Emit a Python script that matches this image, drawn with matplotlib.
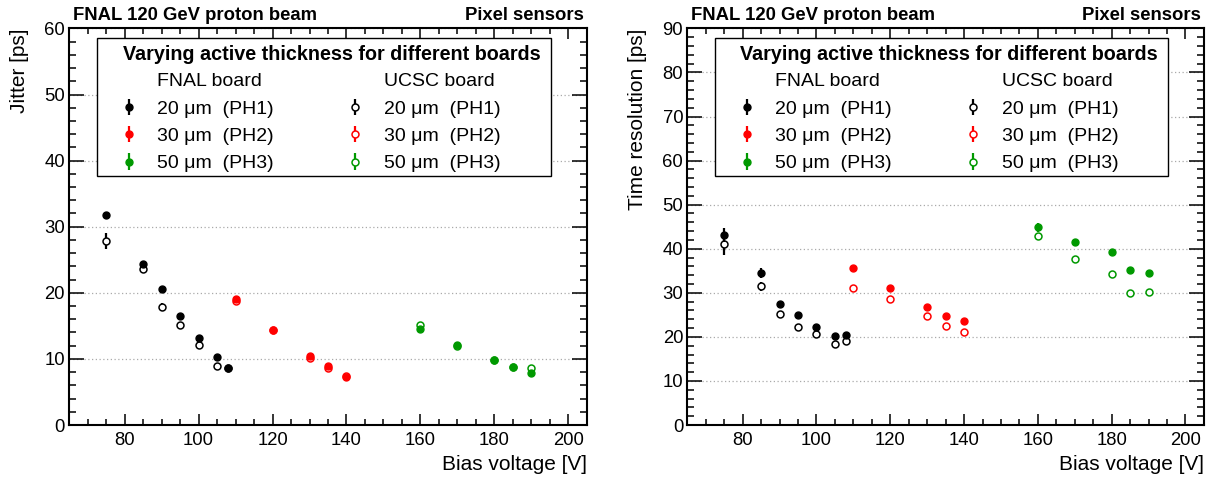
import numpy as np
import matplotlib
matplotlib.use("Agg")
import matplotlib.pyplot as plt
from matplotlib.patches import Rectangle
from matplotlib.lines import Line2D
from matplotlib.ticker import MultipleLocator
from matplotlib.container import ErrorbarContainer
from matplotlib.legend_handler import HandlerErrorbar

plt.rcParams['font.family'] = ['Liberation Sans', 'DejaVu Sans']

# bias voltages per sensor thickness
volt_20 = [75, 85, 90, 95, 100, 105, 108]
volt_30 = [110, 120, 130, 135, 140]
volt_50 = [160, 170, 180, 185, 190]

# jitter [ps]
jit_fnal_20 = [31.7, 24.4, 20.6, 16.5, 13.1, 10.3, 8.6]
jit_fnal_20_err = [0.6, 0.45, 0.3, 0.3, 0.3, 0.3, 0.3]
jit_ucsc_20 = [27.9, 23.6, 17.8, 15.1, 12.1, 9.0, 8.7]
jit_ucsc_20_err = [1.2, 0.5, 0.6, 0.3, 0.3, 0.3, 0.3]
jit_fnal_30 = [19.1, 14.4, 10.4, 8.9, 7.3]
jit_fnal_30_err = [0.3, 0.3, 0.3, 0.3, 0.3]
jit_ucsc_30 = [18.7, 14.3, 10.2, 8.6, 7.4]
jit_ucsc_30_err = [0.3, 0.3, 0.3, 0.3, 0.3]
jit_fnal_50 = [14.5, 12.1, 9.8, 8.8, 7.9]
jit_fnal_50_err = [0.3, 0.3, 0.3, 0.3, 0.3]
jit_ucsc_50 = [15.1, 12.0, 9.8, 8.8, 8.6]
jit_ucsc_50_err = [0.3, 0.3, 0.3, 0.3, 0.3]

# time resolution [ps]
tr_fnal_20 = [43.2, 34.5, 27.5, 25.0, 22.2, 20.2, 20.4]
tr_fnal_20_err = [1.6, 1.1, 0.5, 0.4, 0.4, 0.4, 0.4]
tr_ucsc_20 = [41.0, 31.5, 25.3, 22.2, 20.6, 18.4, 19.1]
tr_ucsc_20_err = [2.4, 1.0, 0.5, 0.4, 0.4, 0.4, 0.4]
tr_fnal_30 = [35.7, 31.0, 26.7, 24.8, 23.6]
tr_fnal_30_err = [0.4, 0.4, 0.4, 0.4, 0.4]
tr_ucsc_30 = [31.2, 28.7, 24.7, 22.4, 21.0]
tr_ucsc_30_err = [0.4, 0.4, 0.4, 0.4, 0.4]
tr_fnal_50 = [44.9, 41.5, 39.3, 35.2, 34.6]
tr_fnal_50_err = [1.0, 0.8, 0.6, 0.6, 0.5]
tr_ucsc_50 = [42.9, 37.7, 34.2, 29.9, 30.2]
tr_ucsc_50_err = [0.5, 0.5, 0.5, 0.5, 0.5]

thick_labels = ['20 \u03bcm  (PH1)', '30 \u03bcm  (PH2)', '50 \u03bcm  (PH3)']
colors = ['black', '#ff0000', '#009900']


def style_axes(ax, ymax, ylabel):
    ax.set_xlim(65, 205)
    ax.set_ylim(0, ymax)
    ax.xaxis.set_major_locator(MultipleLocator(20))
    ax.xaxis.set_minor_locator(MultipleLocator(5))
    ax.yaxis.set_major_locator(MultipleLocator(10))
    ax.yaxis.set_minor_locator(MultipleLocator(2))
    ax.tick_params(which='both', direction='in', top=True, right=True, width=1.1, labelsize=13.3)
    ax.tick_params(axis='x', which='major', length=8, pad=5)
    ax.tick_params(axis='x', which='minor', length=4)
    ax.tick_params(axis='y', which='major', length=11, pad=3)
    ax.tick_params(axis='y', which='minor', length=5)
    for sp in ax.spines.values():
        sp.set_linewidth(1.5)
    ax.yaxis.grid(True, which='major', color='#aaaaaa', linestyle=(0, (1, 2)), linewidth=0.9)
    ax.set_axisbelow(True)
    ax.set_xlabel('Bias voltage [V]', loc='right', fontsize=15, labelpad=4)
    ax.set_ylabel(ylabel, loc='top', fontsize=15, labelpad=11)
    ax.text(0.008, 1.022, 'FNAL 120 GeV proton beam', transform=ax.transAxes,
            fontsize=13.3, fontweight='bold', ha='left', va='baseline')
    ax.text(0.995, 1.022, 'Pixel sensors', transform=ax.transAxes,
            fontsize=13.3, fontweight='bold', ha='right', va='baseline')


def draw_panel(ax, fnal, fnal_err, ucsc, ucsc_err, ymax, ylabel):
    style_axes(ax, ymax, ylabel)
    volts = [volt_20, volt_30, volt_50]
    h_fnal, h_ucsc = [], []
    for v, yo, eo, yf, ef, c in zip(volts, ucsc, ucsc_err, fnal, fnal_err, colors):
        ho = ax.errorbar(v, yo, yerr=eo, fmt='o', color=c, mfc='white', mec=c, mew=1.1,
                         ms=5, elinewidth=1.6, capsize=0, zorder=3)
        hf = ax.errorbar(v, yf, yerr=ef, fmt='o', color=c, ms=5, elinewidth=1.6,
                         capsize=0, zorder=4)
        h_fnal.append(hf)
        h_ucsc.append(ho)

    # legend frame and title
    ax.add_patch(Rectangle((0.0535, 0.6277), 0.8773, 0.3478, transform=ax.transAxes,
                           facecolor='white', edgecolor='black', linewidth=1.0, zorder=5))
    ax.text(0.507, 0.935, 'Varying active thickness for different boards',
            transform=ax.transAxes, fontsize=14.2, fontweight='bold',
            ha='center', va='center', zorder=6)
    blank = Line2D([], [], linestyle='none', marker='none')
    handles = [blank] + h_fnal + [blank] + h_ucsc
    labels = ['FNAL board'] + thick_labels + ['UCSC board'] + thick_labels
    leg = ax.legend(handles, labels, ncol=2, loc='upper left',
                    bbox_to_anchor=(0.0684, 0.888), frameon=False, fontsize=14,
                    borderpad=0, borderaxespad=0, handlelength=2.5, handletextpad=0.2,
                    labelspacing=0.5, columnspacing=2.95,
                    handler_map={ErrorbarContainer: HandlerErrorbar(xerr_size=0.42)})
    leg.set_zorder(7)


fig = plt.figure(figsize=(12.15, 4.79), dpi=100)
ax1 = fig.add_axes([0.057, 0.1127, 0.4259, 0.828])
ax2 = fig.add_axes([0.5657, 0.1127, 0.4252, 0.828])

draw_panel(ax1, [jit_fnal_20, jit_fnal_30, jit_fnal_50],
           [jit_fnal_20_err, jit_fnal_30_err, jit_fnal_50_err],
           [jit_ucsc_20, jit_ucsc_30, jit_ucsc_50],
           [jit_ucsc_20_err, jit_ucsc_30_err, jit_ucsc_50_err], 60, 'Jitter [ps]')
draw_panel(ax2, [tr_fnal_20, tr_fnal_30, tr_fnal_50],
           [tr_fnal_20_err, tr_fnal_30_err, tr_fnal_50_err],
           [tr_ucsc_20, tr_ucsc_30, tr_ucsc_50],
           [tr_ucsc_20_err, tr_ucsc_30_err, tr_ucsc_50_err], 90, 'Time resolution [ps]')

fig.savefig('out.png', dpi=100)
